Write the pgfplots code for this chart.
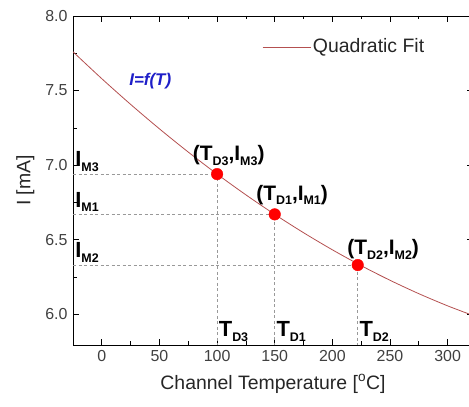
\documentclass[border=0pt]{standalone}
\usepackage{fontspec}
\setmainfont{Liberation Sans}
\usepackage{pgfplots}
\pgfplotsset{compat=1.18}
\definecolor{fitred}{RGB}{180,80,80}
\definecolor{lblue}{RGB}{30,30,200}
\newcommand{\sub}[1]{\raisebox{-0.4ex}{\fontsize{12.5}{13}\selectfont #1}}
\begin{document}
\fontsize{16}{19}\selectfont
\begin{tikzpicture}
\begin{axis}[
 scale only axis, width=400bp, height=329bp,
 xmin=-25, xmax=322, ymin=5.794, ymax=8.0,
 xtick={0,50,...,300}, ytick={6.0,6.5,7.0,7.5,8.0},
 minor x tick num=1, minor y tick num=1,
 tick align=inside,
 major tick length=6bp, minor tick length=3.5bp,
 yticklabel style={/pgf/number format/.cd, fixed, fixed zerofill, precision=1},
 /pgf/number format/assume math mode=true,
 tick label style={font=\fontsize{16}{19}\selectfont, text=black!75},
 xlabel={Channel Temperature [\textsuperscript{o}C]},
 ylabel={I [mA]},
 label style={font=\fontsize{19.5}{22}\selectfont, text=black!85},
 xlabel style={yshift=-2bp},
 axis line style={line width=0.9bp},
 every tick/.style={line width=0.7bp, black},
 legend style={at={(0.465,0.906)}, anchor=west, draw=none, fill=none, font=\fontsize{19.5}{22}\selectfont, text=black!85},
 legend image code/.code={\draw[#1] (0bp,0bp) -- (48bp,0bp);},
]
\addplot[fitred, line width=0.8bp, smooth] coordinates {
(-25,7.76) (0,7.5795) (25,7.4073) (50,7.2433) (75,7.0875) (100,6.94) (125,6.8007)
(150,6.6697) (175,6.5469) (200,6.4323) (225,6.3260) (250,6.2280) (275,6.1381)
(300,6.0565) (322,5.992)};
\addlegendentry{Quadratic Fit}
\addplot[gray!80, line width=0.7bp, dash pattern=on 3bp off 2.5bp, forget plot] coordinates {(-25,6.94) (100,6.94) (100,5.794)};
\addplot[gray!80, line width=0.7bp, dash pattern=on 3bp off 2.5bp, forget plot] coordinates {(-25,6.67) (150,6.67) (150,5.794)};
\addplot[gray!80, line width=0.7bp, dash pattern=on 3bp off 2.5bp, forget plot] coordinates {(-25,6.33) (222,6.33) (222,5.794)};
\addplot[only marks, mark=*, mark size=5.8bp, red, forget plot] coordinates {(100,6.94) (150,6.67) (222,6.33)};
\node[anchor=south west, inner sep=1bp, font=\fontsize{22}{24}\selectfont\bfseries] at (axis cs:-24,6.95) {I\sub{M3}};
\node[anchor=south west, inner sep=1bp, font=\fontsize{22}{24}\selectfont\bfseries] at (axis cs:-24,6.68) {I\sub{M1}};
\node[anchor=south west, inner sep=1bp, font=\fontsize{22}{24}\selectfont\bfseries] at (axis cs:-24,6.34) {I\sub{M2}};
\node[anchor=south west, inner sep=1bp, font=\fontsize{22}{24}\selectfont\bfseries] at (axis cs:100.5,5.81) {T\sub{D3}};
\node[anchor=south west, inner sep=1bp, font=\fontsize{22}{24}\selectfont\bfseries] at (axis cs:150.5,5.81) {T\sub{D1}};
\node[anchor=south west, inner sep=1bp, font=\fontsize{22}{24}\selectfont\bfseries] at (axis cs:222.5,5.81) {T\sub{D2}};
\node[anchor=south west, inner sep=1bp, font=\fontsize{21}{24}\selectfont\bfseries] at (axis cs:78,6.99) {(T\sub{D3},I\sub{M3})};
\node[anchor=south west, inner sep=1bp, font=\fontsize{21}{24}\selectfont\bfseries] at (axis cs:133,6.725) {(T\sub{D1},I\sub{M1})};
\node[anchor=south west, inner sep=1bp, font=\fontsize{21}{24}\selectfont\bfseries] at (axis cs:212,6.36) {(T\sub{D2},I\sub{M2})};
\node[font=\fontsize{17}{20}\selectfont\bfseries\itshape, text=lblue] at (axis cs:42,7.56) {I=f(T)};
\end{axis}
\pgfresetboundingbox
\path[use as bounding box] ([shift={(-73bp,-62bp)}]current axis.south west) rectangle ++(469bp,407bp);
\end{tikzpicture}
\end{document}
